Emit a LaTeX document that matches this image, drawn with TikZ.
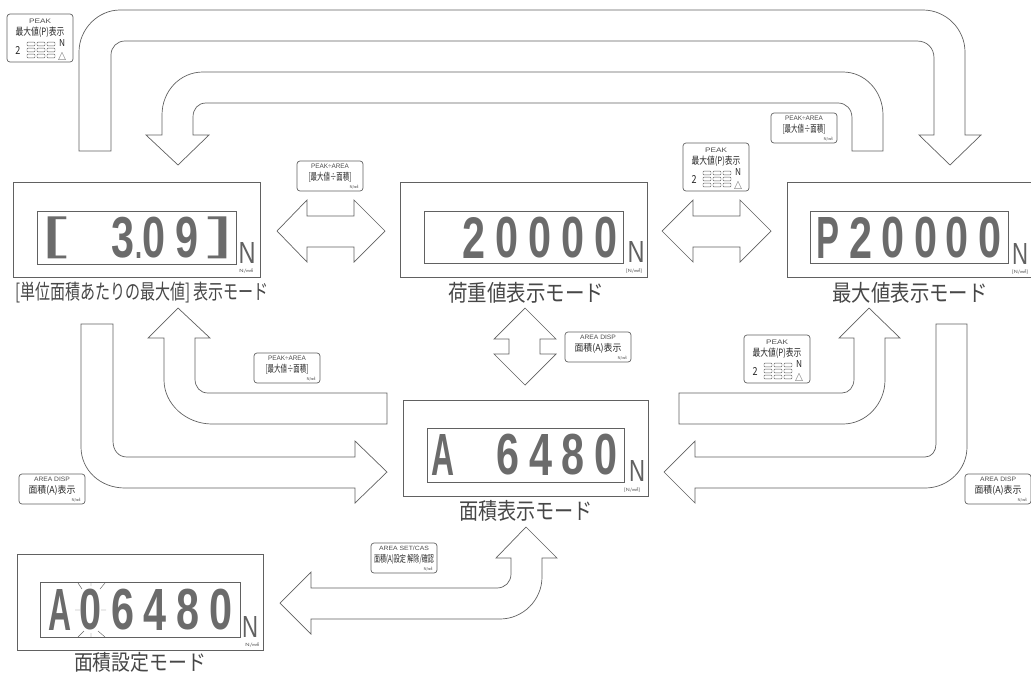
\documentclass[tikz,border=0pt]{standalone}
\usepackage{graphicx}
\usepackage{fontspec}
\usetikzlibrary{fit}
\newfontfamily\cjk{Noto Sans CJK JP}
\newfontfamily\lat{Liberation Sans}
\newcommand\tx[7][]{\node[inner sep=0pt,#1] (#2) at (#3,#4) {\resizebox*{#5pt}{#6pt}{#7}};}
\newcommand\dg[6]{\tx[seg]{#1}{#2}{#3}{#4}{#5}{#6}}
\newcommand\keytwo[7]{%
  \node[keybox,fit={(#2,#3)(#2+66,#3+30)}] (#1) {};
  \tx[keytop]{#1a}{#2+33}{#3+5}{#4}{4.5}{#5}
  \tx[keymid]{#1b}{#2+33}{#3+16.5}{#6}{10}{#7}
  \tx[keyunit]{#1c}{#2+57}{#3+26}{9}{4}{N/㎟}}
\newcommand\peakkey[3]{%
  \begin{scope}[shift={(#2,#3)}]
  \node[keybox,fit={(0,0)(66,48)}] (#1) {};
  \tx[keytop]{#1a}{33}{7}{22}{4.5}{PEAK}
  \tx[keymid]{#1b}{33}{18}{49}{10.5}{最大値(P)表示}
  \tx[keymid]{#1c}{11}{36}{5}{8}{2}
  \tx[keymid]{#1d}{55}{29}{6}{7}{N}
  \tx[keymid]{#1e}{55}{42}{8}{8}{△}
  \foreach \r in {30,36,42}\foreach \c in {20,30,40}
    \draw[keyline,rounded corners=.8pt] (\c,\r-1.8) rectangle (\c+8,\r+1.8);
  \end{scope}}
\tikzset{
  x=1pt,y=-1pt,
  blockarrow/.style={draw=black!62,line width=.7pt,line join=miter,fill=white},
  panel/.style={draw=black!62,line width=.8pt,inner sep=0pt},
  keybox/.style={draw=black!62,line width=.7pt,rounded corners=3pt,inner sep=0pt},
  keyline/.style={draw=black!62,line width=.45pt},
  seg/.style={text=black!58,font=\lat\bfseries},
  segthin/.style={text=black!58,font=\lat},
  modelabel/.style={text=black!72,font=\cjk},
  bigN/.style={text=black!62,font=\lat},
  unit/.style={text=black!65,font=\cjk},
  keytop/.style={text=black!70,font=\lat},
  keymid/.style={text=black!85,font=\cjk},
  keyunit/.style={text=black!70,font=\cjk},
}
\begin{document}
\begin{tikzpicture}
\useasboundingbox (0,0) rectangle (1031,673);
% block arrows
\draw[blockarrow] (79,151) -- (79,52) .. controls (79,29) and (98,10) .. (120,10) -- (923,10) .. controls (946,10) and (965,29) .. (965,52) -- (965,135) -- (981,135) -- (950,165) -- (919,135) -- (934,135) -- (934,58) .. controls (934,48) and (927,41) .. (917,41) -- (125,41) .. controls (117,41) and (111,47) .. (111,55) -- (111,151) -- cycle;
\draw[blockarrow] (883,151) -- (883,115) .. controls (883,91) and (865,72) .. (843,72) -- (203,72) .. controls (180,72) and (162,91) .. (162,115) -- (162,135) -- (146,135) -- (178,165) -- (209,135) -- (193,135) -- (193,117) .. controls (193,109) and (198,103) .. (206,103) -- (838,103) .. controls (846,103) and (852,109) .. (852,118) -- (852,151) -- cycle;
\draw[blockarrow] (387,393) -- (208,393) .. controls (200,393) and (195,387) .. (195,379) -- (195,338) -- (210,338) -- (178,308) -- (148,338) -- (164,338) -- (164,380) .. controls (164,404) and (186,424) .. (212,424) -- (387,424) -- cycle;
\draw[blockarrow] (81,324) -- (81,447) .. controls (81,470) and (100,488) .. (125,488) -- (355,488) -- (355,503) -- (387,472) -- (355,441) -- (355,457) -- (127,457) .. controls (118,457) and (113,450) .. (113,441) -- (113,324) -- cycle;
\draw[blockarrow] (679,393) -- (842,393) .. controls (849,393) and (854,387) .. (854,379) -- (854,338) -- (839,338) -- (869,308) -- (900,338) -- (885,338) -- (885,380) .. controls (885,404) and (866,424) .. (843,424) -- (679,424) -- cycle;
\draw[blockarrow] (664,472) -- (695,441) -- (695,457) -- (925,457) .. controls (932,457) and (936,451) .. (936,444) -- (936,324) -- (967,324) -- (967,447) .. controls (967,470) and (948,488) .. (925,488) -- (695,488) -- (695,503) -- cycle;
\draw[blockarrow] (280,603) -- (311,572) -- (311,588) -- (497,588) .. controls (505,588) and (511,582) .. (511,574) -- (511,558) -- (496,558) -- (526,527) -- (557,558) -- (542,558) -- (542,577) .. controls (542,600) and (523,619) .. (500,619) -- (311,619) -- (311,634) -- cycle;
% double arrows
\draw[blockarrow] (277,231) -- (307,200) -- (307,216) -- (354,216) -- (354,200) -- (385,231) -- (354,262) -- (354,247) -- (307,247) -- (307,262) -- cycle;
\draw[blockarrow] (662,231) -- (693,200) -- (693,216) -- (740,216) -- (740,200) -- (771,231) -- (740,262) -- (740,247) -- (693,247) -- (693,262) -- cycle;
\draw[blockarrow] (525,308) -- (556,339) -- (540,339) -- (540,354) -- (556,354) -- (525,385) -- (494,354) -- (509,354) -- (509,339) -- (494,339) -- cycle;
% display 1
\node[panel,fit={(13,182)(260,277)}] (disp1) {};
\node[panel,fit={(37,211)(236,264)}] (win1) {};
\tx[segthin]{d1a}{55}{238}{26}{42}{[}
\dg{d1b}{123}{238}{23}{41}{3}
\dg{d1c}{138.5}{255}{7}{6}{.}
\dg{d1d}{154}{238}{23}{41}{0}
\dg{d1e}{187}{238}{23}{41}{9}
\tx[segthin]{d1f}{221}{238}{26}{42}{]}
\tx[bigN]{n1}{247}{253}{17}{21}{N}
\tx[unit]{u1}{246}{271}{14}{4.5}{N/㎟}
\tx[modelabel]{l1}{142}{292.5}{254}{21}{[単位面積あたりの最大値] 表示モード}
% display 2
\node[panel,fit={(400,182)(647,277)}] (disp2) {};
\node[panel,fit={(424,211)(623,263)}] (win2) {};
\dg{d2a}{474}{238}{23}{41}{2}
\dg{d2b}{507}{238}{23}{41}{0}
\dg{d2c}{540}{238}{23}{41}{0}
\dg{d2d}{573}{238}{23}{41}{0}
\dg{d2e}{606}{238}{23}{41}{0}
\tx[bigN]{n2}{636}{252}{17}{21}{N}
\tx[unit]{u2}{634}{271}{17}{4.5}{[N/㎟]}
\tx[modelabel]{l2}{526}{292.5}{156}{21}{荷重値表示モード}
% display 3
\node[panel,fit={(787,182)(1033,277)}] (disp3) {};
\node[panel,fit={(810,211)(1008,263)}] (win3) {};
\dg{d3a}{828}{238}{23}{41}{P}
\dg{d3b}{861}{238}{23}{41}{2}
\dg{d3c}{893}{238}{23}{41}{0}
\dg{d3d}{926}{238}{23}{41}{0}
\dg{d3e}{957}{238}{23}{41}{0}
\dg{d3f}{990}{238}{23}{41}{0}
\tx[bigN]{n3}{1020}{254}{16}{21}{N}
\tx[unit]{u3}{1020}{272}{17}{4.5}{[N/㎟]}
\tx[modelabel]{l3}{910}{292.5}{155}{21}{最大値表示モード}
% display 4
\node[panel,fit={(403,400)(648,496)}] (disp4) {};
\node[panel,fit={(427,428)(624,482)}] (win4) {};
\dg{d4a}{443}{455}{23}{41}{A}
\dg{d4b}{508}{455}{23}{41}{6}
\dg{d4c}{541}{455}{23}{41}{4}
\dg{d4d}{573}{455}{23}{41}{8}
\dg{d4e}{606}{455}{23}{41}{0}
\tx[bigN]{n4}{637}{471}{16}{21}{N}
\tx[unit]{u4}{632}{490}{17}{4.5}{[N/㎟]}
\tx[modelabel]{l4}{526}{510.5}{134}{21}{面積表示モード}
% display 5
\node[panel,fit={(17,554)(263,650)}] (disp5) {};
\node[panel,fit={(40,582)(240,637)}] (win5) {};
\dg{d5a}{60}{610}{23}{41}{A}
\dg{d5b}{91}{610}{22}{41}{0}
\dg{d5c}{123}{610}{23}{41}{6}
\dg{d5d}{155}{610}{23}{41}{4}
\dg{d5e}{188}{610}{23}{41}{8}
\dg{d5f}{221}{610}{23}{41}{0}
\draw[keyline] (91,582) -- (91,586) (78,583) -- (82,589) (105,583) -- (100,589)
  (75,610) -- (80,610) (101,610) -- (106,610)
  (78,637) -- (84,631) (91,633) -- (91,637) (105,637) -- (98,631);
\tx[bigN]{n5}{250}{627}{16}{21}{N}
\tx[unit]{u5}{252}{645.5}{14}{4.5}{N/㎟}
\tx[modelabel]{l5}{140}{662.5}{132}{20}{面積設定モード}
% key labels
\peakkey{k1}{7}{14}
\peakkey{k3}{683}{143}
\peakkey{k7}{744}{335}
\keytwo{k2}{297}{161}{38}{PEAK÷AREA}{43}{[最大値÷面積]}
\keytwo{k4}{771}{113}{38}{PEAK÷AREA}{43}{[最大値÷面積]}
\keytwo{k5}{254}{353}{38}{PEAK÷AREA}{43}{[最大値÷面積]}
\keytwo{k6}{565}{332}{36}{AREA DISP}{47}{面積(A)表示}
\keytwo{k8}{19}{474}{36}{AREA DISP}{47}{面積(A)表示}
\keytwo{k9}{965}{474}{36}{AREA DISP}{47}{面積(A)表示}
\keytwo{k10}{371}{543}{50}{AREA SET/CAS}{60}{面積(A)設定 解除/確認}
\end{tikzpicture}
\end{document}
